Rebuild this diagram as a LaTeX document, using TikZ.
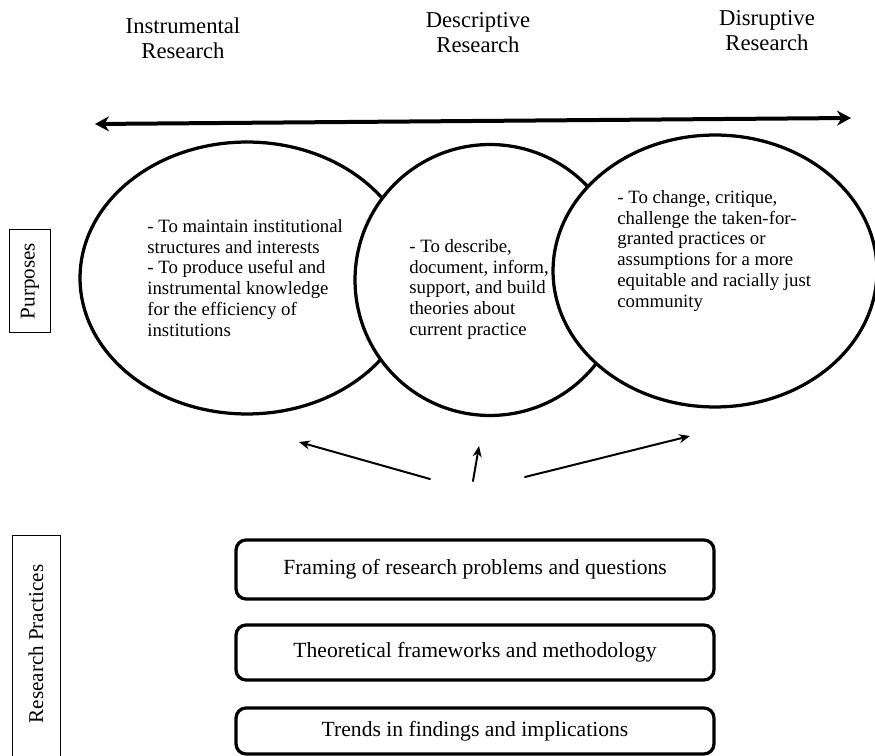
\documentclass[tikz,border=0pt]{standalone}
\usepackage{fontspec}
\setmainfont{Liberation Serif}
\usepackage{tkz-euclide}
\usetikzlibrary{shapes.geometric,arrows.meta}

\begin{document}
\begin{tikzpicture}[x=0.02cm,y=-0.02cm,
    bubble/.style={draw,ellipse,line width=0.065cm,fill=white,inner sep=0},
    bubbletext/.style={align=left,anchor=north west,inner sep=0,
      font=\fontsize{10.7}{11.8}\selectfont},
    heading/.style={align=center,anchor=north,inner sep=0,
      font=\fontsize{12.9}{14.2}\selectfont},
    practice/.style={draw,rounded corners=0.2cm,line width=0.065cm,
      minimum width=9.56cm,font=\fontsize{12.3}{14}\selectfont},
    sidelabel/.style={rotate=90,inner sep=0,font=\fontsize{12}{14}\selectfont},
    pointer/.style={line width=0.04cm,-{Stealth[length=0.22cm,width=0.18cm]}}]
    \useasboundingbox (0,0) rectangle (875,756);

    % headings
    \node[heading] (instr) at (183,17) {Instrumental\\Research};
    \node[heading] (descr) at (478,12) {Descriptive\\Research};
    \node[heading] (disru) at (767,10) {Disruptive\\Research};

    % continuum
    \tkzDefPoints{95/124/L,851/118/R}
    \draw[line width=0.08cm,{Stealth[length=0.28cm,width=0.3cm]}-{Stealth[length=0.28cm,width=0.3cm]}] (L) -- (R);

    % purposes
    \node[bubble,minimum width=6.68cm,minimum height=5.44cm] (instrB) at (247,278) {};
    \node[bubble,minimum width=5.4cm,minimum height=5.42cm] (descrB) at (490,280) {};
    \node[bubble,minimum width=6.48cm,minimum height=5.44cm] (disruB) at (715,271) {};
    \node[bubbletext] (instrT) at (147,219) {- To maintain institutional\\structures and interests\\- To produce useful and\\instrumental knowledge\\for the efficiency of\\institutions};
    \node[bubbletext] (descrT) at (409,239) {- To describe,\\document, inform,\\support, and build\\theories about\\current practice};
    \node[bubbletext] (disruT) at (617,190) {- To change, critique,\\challenge the taken-for-\\granted practices or\\assumptions for a more\\equitable and racially just\\community};
    \node[sidelabel,draw,line width=0.02cm,minimum width=2.06cm,minimum height=0.84cm] (purp) at (30,281) {Purposes};

    % arrows up from the practices
    \tkzDefPoints{430/479/T1,299/442/H1,473/481/T2,479/446/H2,525/477/T3,690/436/H3}
    \tkzDrawSegments[pointer](T1,H1 T2,H2 T3,H3)

    % research practices
    \node[practice,minimum height=1.18cm] (frame) at (475,569.5) {Framing of research problems and questions};
    \node[practice,minimum height=1.1cm] (theory) at (475,652.5) {Theoretical frameworks and methodology};
    \node[practice,minimum height=0.92cm] (trend) at (475,731) {Trends in findings and implications};
    \node[sidelabel] (resp) at (36,644) {Research Practices};
    \draw[line width=0.02cm] (12,535) rectangle (60,780);
  \end{tikzpicture}
\end{document}
